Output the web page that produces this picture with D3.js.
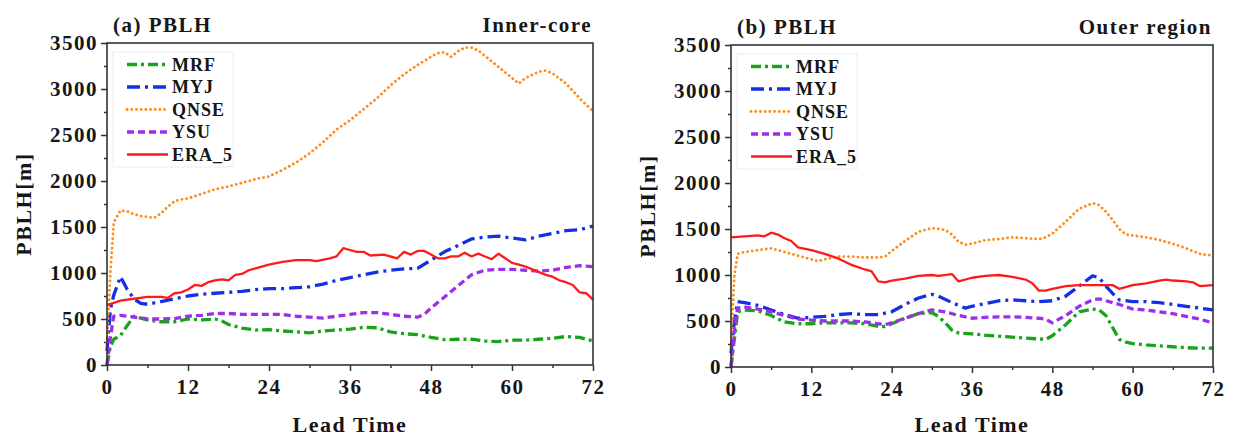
<!DOCTYPE html>
<html>
<head>
<meta charset="utf-8">
<title>PBLH</title>
<script src="https://d3js.org/d3.v7.min.js"></script>
<style>
  * { margin: 0; padding: 0; }
  body { background: #fff; }
  svg text { font-family: "Liberation Serif", "Times New Roman", serif; font-weight: bold; fill: #161616; }
</style>
</head>
<body>
<div id="chart"></div>
<script>
const schemes = ["MRF", "MYJ", "QNSE", "YSU", "ERA_5"];
const colors = ["#18a318", "#1430e6", "#ff8c1a", "#9b30ea", "#ff1a1a"];
const dashes = ["10,4,3,4", "13,5,3,5", "0.1,4.6", "7,4", null];
const hourTicks = [0, 12, 24, 36, 48, 60, 72];
const pblhTicks = [0, 500, 1000, 1500, 2000, 2500, 3000, 3500];

// (a) inner core  -- [lead hour, PBLH m]
const innerMRF = [[0,0],[0.5,200],[1,280],[2,320],[3,430],[4,530],[6,490],[8,470],[10,470],[12,500],[14,490],[16,500],[17,480],[18,440],[20,400],[22,380],[24,385],[26,370],[28,360],[30,350],[32,370],[34,380],[36,390],[38,410],[40,405],[42,360],[44,340],[46,330],[48,300],[50,275],[52,280],[54,280],[56,260],[58,255],[60,270],[62,270],[64,280],[66,290],[68,310],[70,300],[72,260]];
const innerMYJ = [[0,150],[0.5,600],[1,760],[2,960],[3,820],[4,720],[5,670],[6,660],[8,690],[10,720],[12,750],[14,770],[16,780],[18,790],[20,800],[22,820],[24,830],[26,830],[28,840],[30,850],[32,880],[34,920],[36,950],[38,980],[40,1010],[42,1030],[44,1045],[46,1050],[48,1140],[50,1230],[52,1300],[54,1370],[56,1390],[58,1400],[60,1380],[62,1360],[64,1400],[66,1430],[68,1460],[70,1470],[72,1510]];
const innerQNSE = [[0,250],[0.5,1000],[1,1550],[2,1680],[3,1670],[4,1640],[5,1620],[6,1610],[7,1600],[8,1650],[9,1720],[10,1780],[11,1800],[12,1810],[14,1860],[16,1910],[18,1940],[20,1980],[22,2020],[24,2050],[26,2120],[28,2200],[30,2300],[32,2420],[34,2560],[36,2660],[38,2780],[40,2900],[42,3040],[44,3160],[46,3260],[48,3350],[49,3390],[50,3400],[51,3350],[52,3410],[53,3450],[54,3450],[55,3420],[56,3360],[58,3240],[60,3120],[61,3060],[62,3120],[64,3190],[65,3200],[66,3170],[68,3060],[70,2900],[72,2760]];
const innerYSU = [[0,0],[0.5,300],[1,530],[2,540],[4,520],[6,500],[8,500],[10,505],[12,530],[14,540],[16,560],[18,560],[20,550],[22,550],[24,550],[26,550],[28,530],[30,520],[32,510],[34,530],[36,550],[38,570],[40,570],[42,550],[44,530],[46,520],[47,550],[48,620],[50,740],[52,860],[54,980],[56,1030],[58,1040],[60,1040],[62,1030],[64,1020],[66,1030],[68,1060],[70,1080],[72,1070]];
const innerERA5 = [[0,650],[2,700],[4,720],[6,740],[8,740],[9,730],[10,780],[11,790],[12,820],[13,870],[14,860],[15,900],[16,920],[17,930],[18,920],[19,980],[20,990],[21,1030],[22,1050],[24,1090],[26,1120],[28,1140],[30,1140],[31,1130],[33,1160],[34,1180],[35,1270],[36,1250],[37,1230],[38,1230],[39,1190],[41,1200],[43,1160],[44,1230],[45,1200],[46,1240],[47,1240],[48,1200],[49,1160],[50,1160],[51,1180],[52,1180],[53,1220],[54,1180],[55,1210],[56,1180],[57,1150],[58,1210],[59,1160],[60,1110],[61,1090],[62,1070],[63,1040],[64,1010],[65,980],[66,960],[67,920],[68,900],[69,870],[70,790],[71,780],[72,710]];

// (b) outer region
const outerMRF = [[0,0],[0.5,300],[1,600],[2,620],[4,610],[6,560],[8,490],[10,470],[12,470],[14,480],[16,480],[18,480],[20,470],[22,440],[23,440],[24,470],[26,530],[28,580],[30,590],[31,550],[32,480],[33,400],[34,370],[36,360],[38,345],[40,335],[42,325],[44,315],[46,305],[47,300],[48,340],[50,460],[52,600],[54,630],[55,620],[56,560],[57,430],[58,300],[59,270],[60,255],[62,240],[64,230],[66,220],[68,210],[70,205],[72,205]];
const outerMYJ = [[0,150],[0.5,500],[1,710],[2,700],[4,670],[6,620],[8,570],[10,530],[12,540],[14,550],[16,570],[18,580],[20,570],[22,570],[24,600],[26,680],[28,750],[30,790],[31,770],[33,700],[35,640],[36,660],[38,690],[40,720],[42,730],[44,720],[46,710],[48,720],[50,770],[52,880],[54,990],[55,970],[56,880],[57,800],[58,730],[60,710],[62,710],[64,700],[66,680],[68,660],[70,640],[72,620]];
const outerQNSE = [[0,220],[0.5,1000],[1,1230],[2,1250],[4,1270],[6,1290],[8,1250],[10,1210],[12,1170],[13,1150],[14,1170],[16,1200],[18,1200],[20,1190],[22,1190],[23,1200],[24,1260],[26,1370],[28,1470],[30,1510],[32,1490],[33,1440],[34,1360],[35,1330],[36,1340],[38,1380],[40,1390],[42,1410],[44,1400],[46,1390],[47,1410],[48,1450],[50,1580],[52,1720],[54,1780],[55,1760],[56,1690],[57,1600],[58,1500],[59,1440],[60,1430],[62,1410],[64,1380],[66,1340],[68,1290],[70,1230],[72,1210]];
const outerYSU = [[0,0],[0.5,400],[1,640],[2,650],[4,630],[6,600],[8,560],[10,520],[12,510],[14,500],[16,500],[18,500],[20,490],[22,470],[23,460],[24,480],[26,530],[28,580],[30,620],[32,600],[34,560],[36,530],[38,540],[40,545],[42,545],[44,540],[46,530],[47,520],[48,480],[50,560],[52,660],[54,730],[55,740],[56,720],[58,680],[60,630],[62,620],[64,600],[66,580],[68,550],[70,520],[72,480]];
const outerERA5 = [[0,1410],[2,1420],[4,1430],[5,1420],[6,1460],[7,1440],[8,1400],[9,1370],[10,1300],[12,1270],[14,1230],[16,1180],[18,1110],[20,1060],[21,1040],[22,930],[23,920],[24,940],[26,960],[28,990],[30,1000],[31,990],[33,1010],[34,930],[36,970],[38,990],[40,1000],[42,980],[44,950],[45,910],[46,830],[47,830],[48,850],[50,880],[52,890],[54,890],[56,890],[57,890],[58,850],[60,890],[62,910],[64,940],[65,950],[66,940],[68,930],[69,920],[70,880],[72,890]];

const panels = [
  { title: "(a) PBLH", region: "Inner-core", box: { x0: 107, x1: 593, y0: 43, y1: 365 },
    series: [innerMRF, innerMYJ, innerQNSE, innerYSU, innerERA5] },
  { title: "(b) PBLH", region: "Outer region", box: { x0: 731, x1: 1213, y0: 45, y1: 367 },
    series: [outerMRF, outerMYJ, outerQNSE, outerYSU, outerERA5] }
];

const widthOf = i => i === 2 ? 2.8 : (i === 4 ? 2.3 : 3.3);

const svg = d3.select("#chart").append("svg")
  .attr("width", 1233).attr("height", 439);

panels.forEach(p => {
  const b = p.box;
  const x = d3.scaleLinear().domain([0, 72]).range([b.x0, b.x1]);
  const y = d3.scaleLinear().domain([0, 3500]).range([b.y1, b.y0]);
  const g = svg.append("g");

  // minor ticks
  g.append("g").attr("transform", `translate(0,${b.y1})`)
    .call(d3.axisBottom(x).tickValues(d3.range(6, 72, 12)).tickSize(3).tickFormat(""))
    .call(a => a.select(".domain").remove());
  g.append("g").attr("transform", `translate(${b.x0},0)`)
    .call(d3.axisLeft(y).tickValues(d3.range(250, 3500, 500)).tickSize(3).tickFormat(""))
    .call(a => a.select(".domain").remove());

  // major ticks
  const xa = g.append("g").attr("transform", `translate(0,${b.y1})`)
    .call(d3.axisBottom(x).tickValues(hourTicks).tickSize(6).tickPadding(7).tickFormat(d3.format("d")));
  const ya = g.append("g").attr("transform", `translate(${b.x0},0)`)
    .call(d3.axisLeft(y).tickValues(pblhTicks).tickSize(6).tickPadding(3).tickFormat(d3.format("d")));
  xa.select(".domain").remove();
  ya.select(".domain").remove();
  g.selectAll(".tick line").attr("stroke", "#333").attr("stroke-width", 1.5);
  xa.selectAll("text").attr("dy", "0.78em");
  g.selectAll(".tick text")
    .attr("font-size", 21).attr("letter-spacing", 1.5)
    .attr("fill", null);
  g.selectAll("g[font-family]").attr("font-family", null).attr("font-size", null);

  // series lines
  const line = d3.line().x(d => x(d[0])).y(d => y(d[1]));
  p.series.forEach((s, i) => {
    g.append("path")
      .datum(s)
      .attr("d", line)
      .attr("fill", "none")
      .attr("stroke", colors[i])
      .attr("stroke-width", widthOf(i))
      .attr("stroke-linecap", i === 2 ? "round" : "butt")
      .attr("stroke-linejoin", "round")
      .attr("stroke-dasharray", dashes[i]);
  });

  // frame
  g.append("rect")
    .attr("x", b.x0).attr("y", b.y0)
    .attr("width", b.x1 - b.x0).attr("height", b.y1 - b.y0)
    .attr("fill", "none").attr("stroke", "#333").attr("stroke-width", 1.6);

  // legend
  const lg = g.append("g").attr("transform", `translate(${b.x0},${b.y0})`);
  lg.append("rect")
    .attr("x", 6).attr("y", 9).attr("width", 120).attr("height", 115)
    .attr("fill", "none").attr("stroke", "#ececec").attr("stroke-width", 1);
  schemes.forEach((name, i) => {
    const ly = 21.5 + i * 22.5;
    lg.append("line")
      .attr("x1", 20).attr("x2", 61).attr("y1", ly).attr("y2", ly)
      .attr("stroke", colors[i])
      .attr("stroke-width", widthOf(i))
      .attr("stroke-linecap", i === 2 ? "round" : "butt")
      .attr("stroke-dasharray", dashes[i]);
    lg.append("text")
      .attr("x", 65).attr("y", ly).attr("dy", "0.35em")
      .attr("font-size", 18).attr("letter-spacing", 1)
      .text(name);
  });

  // titles
  g.append("text").attr("x", b.x0 + 6).attr("y", b.y0 - 11)
    .attr("font-size", 21).attr("letter-spacing", 1.5).text(p.title);
  g.append("text").attr("x", b.x1 - 1).attr("y", b.y0 - 11)
    .attr("text-anchor", "end")
    .attr("font-size", 21).attr("letter-spacing", 1.5).text(p.region);

  // axis labels
  g.append("text")
    .attr("x", (b.x0 + b.x1) / 2).attr("y", 432)
    .attr("text-anchor", "middle")
    .attr("font-size", 22).attr("letter-spacing", 1.5).text("Lead Time");
  g.append("text")
    .attr("transform", `translate(${b.x0 - 84},${(b.y0 + b.y1) / 2}) rotate(-90)`)
    .attr("text-anchor", "middle").attr("dy", "0.35em")
    .attr("font-size", 22).attr("letter-spacing", 1.5).text("PBLH[m]");
});
</script>
</body>
</html>
